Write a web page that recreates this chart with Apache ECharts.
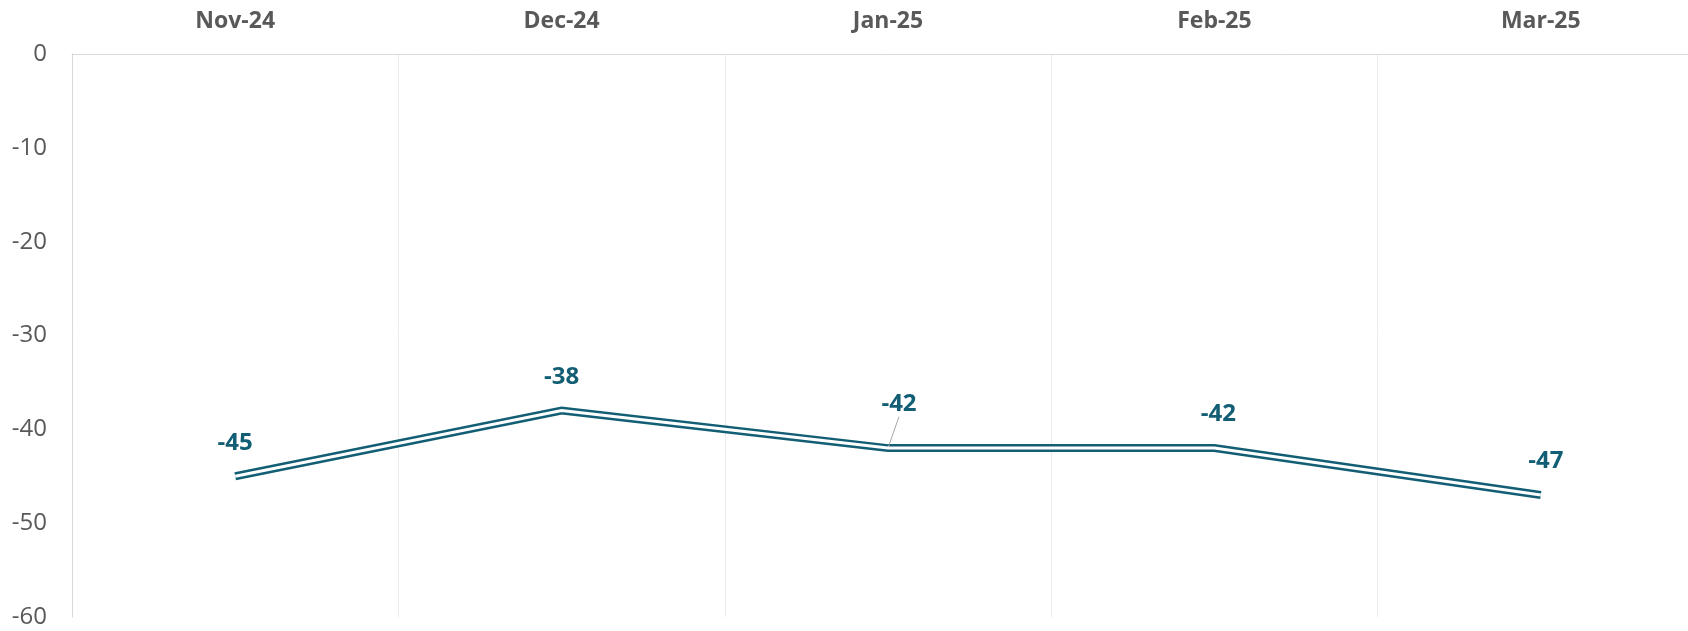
<html>
<head>
<meta charset="utf-8">
<script src="https://cdn.jsdelivr.net/npm/echarts@6/dist/echarts.min.js"></script>
<style>
  html, body { margin: 0; padding: 0; background: #fff; }
  #chart { width: 1688px; height: 631px; }
</style>
</head>
<body>
<div id="chart"></div>
<script>
// data
var months = ['Nov-24', 'Dec-24', 'Jan-25', 'Feb-25', 'Mar-25'];
var balance = [-45, -38, -42, -42, -47];
var yTicks = { min: -60, max: 0, step: 10 };

var teal = '#125e74';
var font = '"Open Sans", "Liberation Sans", sans-serif';

// little nudges of the value labels, as placed in the original
var labelShift = [[0, 0], [0, 0], [11, -10], [4, 0], [5, 0]];

var chart = echarts.init(document.getElementById('chart'));
var option = {
  animation: false,
  // the plot runs a bit past the right edge of the window in the original
  grid: { left: 72, top: 54, right: -16, bottom: 14, outerBoundsMode: 'none' },
  xAxis: {
    type: 'category',
    position: 'top',
    data: months,
    boundaryGap: true,
    axisTick: { show: false },
    axisLine: { lineStyle: { color: '#d9d9d9', width: 1 } },
    splitLine: { show: true, lineStyle: { color: '#ebebeb', width: 1 } },
    axisLabel: {
      margin: 21,
      color: '#595959',
      fontFamily: font,
      fontWeight: 'bold',
      fontSize: 23
    }
  },
  yAxis: {
    type: 'value',
    min: yTicks.min,
    max: yTicks.max,
    interval: yTicks.step,
    axisLine: { show: true, lineStyle: { color: '#d9d9d9', width: 1 } },
    axisTick: { show: false },
    splitLine: { show: false },
    axisLabel: {
      margin: 25,
      color: '#595959',
      fontFamily: font,
      fontSize: 24
    }
  },
  series: [
    {
      type: 'line',
      data: balance,
      symbol: 'circle',
      symbolSize: 1,
      itemStyle: { color: 'rgba(0,0,0,0)' },
      lineStyle: { color: teal, width: 8, join: 'miter', cap: 'butt' },
      z: 2,
      label: {
        show: true,
        position: 'top',
        distance: 21,
        color: teal,
        fontFamily: font,
        fontWeight: 'bold',
        fontSize: 24
      },
      labelLine: { show: false, lineStyle: { color: '#a6a6a6', width: 1 } },
      labelLayout: function (p) {
        var s = labelShift[p.dataIndex];
        return { dx: s[0], dy: s[1] };
      }
    },
    {
      // white core gives the double-line look
      type: 'line',
      data: balance,
      symbol: 'none',
      silent: true,
      lineStyle: { color: '#ffffff', width: 3, join: 'miter', cap: 'butt' },
      z: 3
    }
  ]
};
// leader line only on the Jan-25 label
option.series[0].data = balance.map(function (v, i) {
  return i === 2 ? { value: v, labelLine: { show: true } } : v;
});
chart.setOption(option);
</script>
</body>
</html>
